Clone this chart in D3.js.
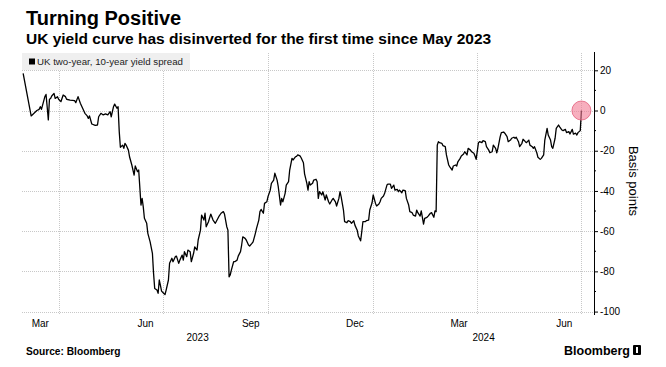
<!DOCTYPE html>
<html>
<head>
<meta charset="utf-8">
<script src="https://cdn.jsdelivr.net/npm/d3@7"></script>
<style>
body { margin: 0; background: #fff; }
text { font-family: "Liberation Sans", Arial, sans-serif; fill: #000; }
</style>
</head>
<body>
<script>
// UK 2y/10y spread, basis points
var dates = [
  "2023-03-01","2023-03-08","2023-03-13","2023-03-15","2023-03-16","2023-03-17","2023-03-20","2023-03-21","2023-03-22","2023-03-23",
  "2023-03-24","2023-03-25","2023-03-26","2023-03-28","2023-03-29","2023-03-31","2023-04-01","2023-04-03","2023-04-05","2023-04-07",
  "2023-04-08","2023-04-11","2023-04-15","2023-04-16","2023-04-18","2023-04-20","2023-04-22","2023-04-24","2023-04-26","2023-04-27",
  "2023-04-28","2023-04-30","2023-05-03","2023-05-05","2023-05-06","2023-05-08","2023-05-10","2023-05-12","2023-05-14","2023-05-16",
  "2023-05-17","2023-05-19","2023-05-20","2023-05-22","2023-05-23","2023-05-24","2023-05-25","2023-05-27","2023-05-28","2023-05-29",
  "2023-05-30","2023-06-01","2023-06-02","2023-06-04","2023-06-06","2023-06-07","2023-06-09","2023-06-10","2023-06-12","2023-06-13",
  "2023-06-14","2023-06-15","2023-06-17","2023-06-18","2023-06-20","2023-06-22","2023-06-23","2023-06-24","2023-06-26","2023-06-27",
  "2023-06-28","2023-06-29","2023-06-30","2023-07-02","2023-07-03","2023-07-04","2023-07-06","2023-07-07","2023-07-09","2023-07-10",
  "2023-07-12","2023-07-13","2023-07-15","2023-07-16","2023-07-18","2023-07-19","2023-07-20","2023-07-22","2023-07-23","2023-07-25",
  "2023-07-26","2023-07-28","2023-07-29","2023-07-31","2023-08-01","2023-08-03","2023-08-04","2023-08-06","2023-08-07","2023-08-08",
  "2023-08-10","2023-08-12","2023-08-14","2023-08-16","2023-08-19","2023-08-21","2023-08-23","2023-08-24","2023-08-26","2023-08-27",
  "2023-08-28","2023-08-29","2023-08-30","2023-09-01","2023-09-02","2023-09-04","2023-09-05","2023-09-07","2023-09-08","2023-09-09",
  "2023-09-11","2023-09-12","2023-09-14","2023-09-15","2023-09-17","2023-09-18","2023-09-20","2023-09-21","2023-09-23","2023-09-24",
  "2023-09-25","2023-09-27","2023-09-28","2023-09-30","2023-10-01","2023-10-03","2023-10-04","2023-10-06","2023-10-07","2023-10-09",
  "2023-10-10","2023-10-12","2023-10-13","2023-10-14","2023-10-16","2023-10-17","2023-10-19","2023-10-20","2023-10-22","2023-10-23",
  "2023-10-25","2023-10-26","2023-10-27","2023-10-29","2023-10-30","2023-11-01","2023-11-02","2023-11-04","2023-11-05","2023-11-06",
  "2023-11-07","2023-11-09","2023-11-10","2023-11-12","2023-11-13","2023-11-14","2023-11-15","2023-11-17","2023-11-18","2023-11-20",
  "2023-11-21","2023-11-23","2023-11-24","2023-11-26","2023-11-27","2023-11-29","2023-11-30","2023-12-02","2023-12-03","2023-12-04",
  "2023-12-06","2023-12-07","2023-12-09","2023-12-10","2023-12-12","2023-12-13","2023-12-15","2023-12-16","2023-12-18","2023-12-19",
  "2023-12-21","2023-12-22","2023-12-23","2023-12-25","2023-12-26","2023-12-28","2023-12-29","2023-12-31","2024-01-01","2024-01-03",
  "2024-01-04","2024-01-06","2024-01-07","2024-01-08","2024-01-10","2024-01-11","2024-01-13","2024-01-14","2024-01-16","2024-01-17",
  "2024-01-19","2024-01-20","2024-01-22","2024-01-23","2024-01-24","2024-01-26","2024-01-27","2024-01-29","2024-01-30","2024-02-01",
  "2024-02-02","2024-02-04","2024-02-05","2024-02-07","2024-02-08","2024-02-09","2024-02-11","2024-02-12","2024-02-14","2024-02-15",
  "2024-02-17","2024-02-18","2024-02-20","2024-02-21","2024-02-23","2024-02-24","2024-02-25","2024-02-26","2024-02-27","2024-02-28",
  "2024-03-01","2024-03-02","2024-03-04","2024-03-05","2024-03-07","2024-03-08","2024-03-10","2024-03-11","2024-03-13","2024-03-14",
  "2024-03-15","2024-03-17","2024-03-18","2024-03-20","2024-03-21","2024-03-23","2024-03-24","2024-03-26","2024-03-27","2024-03-29",
  "2024-03-30","2024-03-31","2024-04-02","2024-04-03","2024-04-05","2024-04-06","2024-04-08","2024-04-09","2024-04-11","2024-04-12",
  "2024-04-14","2024-04-15","2024-04-17","2024-04-18","2024-04-19","2024-04-21","2024-04-22","2024-04-24","2024-04-25","2024-04-27",
  "2024-04-28","2024-04-30","2024-05-01","2024-05-03","2024-05-04","2024-05-05","2024-05-07","2024-05-08","2024-05-10","2024-05-11",
  "2024-05-13","2024-05-14","2024-05-16","2024-05-17","2024-05-19","2024-05-20","2024-05-21","2024-05-23","2024-05-24","2024-05-26",
  "2024-05-27","2024-05-29","2024-05-30","2024-06-01","2024-06-02","2024-06-04","2024-06-05","2024-06-06","2024-06-08","2024-06-09",
  "2024-06-11","2024-06-12","2024-06-14","2024-06-15","2024-06-17","2024-06-18","2024-06-20","2024-06-21","2024-06-23","2024-06-24",
  "2024-06-26","2024-06-27","2024-06-28","2024-06-30","2024-07-01"
];
var spread = [
  18.5,-2.7,0,0.6,1.9,0.6,6.9,8,1.9,-4.7,
  5.6,6,7.2,8.5,6,6.9,5.6,4.4,7.7,6.9,
  5.6,5.2,4.9,3.9,6.9,3.6,1.1,-1.4,-2.7,-3.9,
  -2.7,-6.7,-7.4,-7.2,-3.1,-1.4,-2.2,-1.7,-2.2,-0.6,
  -3.1,1.9,3.2,1.1,1.9,-10.5,-18.3,-17.2,-18.8,-16.3,
  -17.2,-19.7,-23,-27.1,-32.1,-27.6,-30.4,-29.6,-47,-43.7,
  -47.9,-53.6,-56.1,-61.1,-65.3,-71,-81,-88.5,-89.3,-90.9,
  -84.3,-87,-89.8,-91,-91.5,-89.3,-84.3,-76,-73.5,-75.2,
  -72.7,-72.4,-76,-74.4,-71.9,-74.4,-70.2,-72.7,-69.4,-70.2,
  -75.2,-71,-67.8,-69.4,-64.4,-59.5,-52,-54.5,-51.1,-57.8,
  -55.3,-51.5,-54.5,-56.1,-52.8,-51.1,-50.3,-51.5,-57.8,-59.5,
  -82.7,-81.8,-79.4,-75.2,-75.2,-74.4,-72.4,-70.2,-66.9,-62.8,
  -63.6,-64.4,-66.9,-67.4,-66.1,-65.3,-61.1,-58.6,-54.5,-50.3,
  -49.2,-51.1,-46.2,-45.4,-42.9,-39.6,-36.2,-34.6,-31.2,-34.6,
  -37.9,-47,-43.7,-45.4,-41.2,-37.1,-35.4,-29.6,-23.8,-24.6,
  -23,-22.8,-22.1,-22.6,-23.5,-26,-31.5,-36.2,-39.6,-35.4,
  -37.1,-36.2,-34.6,-34.2,-35.4,-43.7,-40.4,-42,-40.4,-44.5,
  -42,-45.4,-46.5,-44.5,-43.7,-45.4,-47.5,-43.7,-40.4,-42.9,
  -49.5,-55.3,-55.8,-54.8,-55.3,-56.1,-54.8,-57,-59.5,-62.4,
  -64.8,-60.3,-55.3,-55.3,-54.8,-54.5,-49.5,-45.9,-42,-46.2,
  -47.5,-46.5,-45.4,-43.7,-42.5,-41.2,-37.1,-36.6,-36.6,-38.7,
  -37.1,-39.6,-39.2,-40.4,-39.6,-40.9,-39.6,-39.9,-43.7,-47,
  -50.3,-50.8,-52,-52.5,-49.5,-50.8,-52.5,-49.9,-56.5,-53.6,
  -53.1,-52.5,-51.1,-50.8,-53.1,-49.9,-50.3,-17.2,-15.5,-16,
  -16.3,-17.5,-18,-22.1,-27.1,-28,-29.6,-27.6,-27.1,-27.6,
  -25.5,-23.8,-22.6,-21.6,-20.5,-22.1,-18.8,-19.7,-20.5,-21.3,
  -22.6,-24.3,-16,-15.5,-16,-15,-15.5,-18,-19.7,-21,
  -20.5,-17.2,-18.8,-21,-18.8,-13,-11,-10.7,-11.3,-13,
  -15.5,-14.7,-13.8,-13.3,-13.8,-13.3,-15.5,-18,-16.3,-14.3,
  -15.5,-16,-14.7,-17.2,-18,-18.8,-18,-21,-23.3,-24.3,
  -23.8,-22.1,-14.7,-8.9,-12.2,-14.7,-18,-18.8,-13.8,-8.9,
  -7.2,-8.1,-9.7,-10,-9.4,-11,-10.5,-11.7,-9.4,-11.7,
  -11.3,-12.2,-11,-10,0
];

var monthLabels = ["Mar", "Jun", "Sep", "Dec", "Mar", "Jun"];
var monthLabelDates = ["2023-03-16", "2023-06-16", "2023-09-16", "2023-12-16", "2024-03-16", "2024-06-16"];
var gridDates = ["2023-04-01", "2023-07-01", "2023-10-01", "2024-01-01", "2024-04-01", "2024-07-01"];
var yearLabels = ["2023", "2024"];
var yTicks = [20, 0, -20, -40, -60, -80, -100];
var yMinorTicks = [10, -10, -30, -50, -70, -90];

var w = 666, h = 367;
var plotLeft = 22, plotRight = 594, plotTop = 53, plotBottom = 315;

var parse = d3.timeParse("%Y-%m-%d");

var data = [];
for (i = 0; i < dates.length; i++) {
    data.push({date: parse(dates[i]), value: spread[i]});
}

var x = d3.scaleTime()
    .domain([parse("2023-02-28"), parse("2024-07-12")])
    .range([plotLeft, plotRight]);
var y = d3.scaleLinear()
    .domain([-101.7, 29.1])
    .range([plotBottom, plotTop - 1]);

var svg = d3.select("body").append("svg")
    .attr("width", w)
    .attr("height", h);

// titles
svg.append("text")
    .attr("x", 26).attr("y", 25)
    .style("font-size", "20px").style("font-weight", "bold")
    .text("Turning Positive");
svg.append("text")
    .attr("x", 26).attr("y", 44)
    .style("font-size", "15.5px").style("font-weight", "bold")
    .text("UK yield curve has disinverted for the first time since May 2023");

// gridlines
svg.append("g").selectAll("line")
    .data(yTicks).enter().append("line")
    .attr("x1", plotLeft).attr("x2", plotRight)
    .attr("y1", function(d) { return Math.round(y(d)) + 0.5; })
    .attr("y2", function(d) { return Math.round(y(d)) + 0.5; })
    .attr("stroke", "#c8c8c8")
    .attr("stroke-dasharray", "1,1");

svg.append("g").selectAll("line")
    .data(gridDates).enter().append("line")
    .attr("x1", function(d) { return Math.round(x(parse(d))) + 0.5; })
    .attr("x2", function(d) { return Math.round(x(parse(d))) + 0.5; })
    .attr("y1", plotTop).attr("y2", plotBottom)
    .attr("stroke", "#c8c8c8")
    .attr("stroke-dasharray", "1,1");

// legend
svg.append("rect")
    .attr("x", plotLeft).attr("y", plotTop)
    .attr("width", 168).attr("height", 17)
    .attr("fill", "#efefef");
svg.append("rect")
    .attr("x", 29).attr("y", 58.5)
    .attr("width", 6).attr("height", 6)
    .attr("fill", "#000");
svg.append("text")
    .attr("x", 37).attr("y", 65)
    .style("font-size", "9.7px")
    .style("fill", "#222")
    .text("UK two-year, 10-year yield spread");

// the line
var line = d3.line()
    .x(function(d) { return x(d.date); })
    .y(function(d) { return y(d.value); });

svg.append("path")
    .datum(data)
    .attr("d", line)
    .attr("fill", "none")
    .attr("stroke", "#000")
    .attr("stroke-width", 1.3)
    .attr("stroke-linejoin", "round");

// highlight on the last point
var last = data[data.length - 1];
svg.append("circle")
    .attr("cx", x(last.date))
    .attr("cy", y(last.value))
    .attr("r", 9.5)
    .attr("fill", "#f27a93")
    .attr("fill-opacity", 0.6)
    .attr("stroke", "#e3607c")
    .attr("stroke-width", 0.8);

// right axis
var yAxis = d3.axisRight(y)
    .tickValues(yTicks)
    .tickSize(4)
    .tickPadding(2)
    .tickFormat(function(d) { return d; });
var gy = svg.append("g")
    .attr("transform", "translate(" + plotRight + ",0)")
    .call(yAxis);
gy.select(".domain").remove();
gy.selectAll("text")
    .style("font-size", "10px")
    .style("font-family", "'Liberation Sans', Arial, sans-serif");

svg.append("g").selectAll("line")
    .data(yMinorTicks).enter().append("line")
    .attr("x1", plotRight).attr("x2", plotRight + 2)
    .attr("y1", function(d) { return y(d); })
    .attr("y2", function(d) { return y(d); })
    .attr("stroke", "#000");

svg.append("line")
    .attr("x1", plotRight + 0.5).attr("x2", plotRight + 0.5)
    .attr("y1", plotTop - 1).attr("y2", plotBottom)
    .attr("stroke", "#000");

svg.append("text")
    .attr("transform", "translate(629,181) rotate(90)")
    .style("text-anchor", "middle")
    .style("font-size", "13px")
    .text("Basis points");

// month and year labels
svg.append("g").selectAll("text")
    .data(monthLabels).enter().append("text")
    .attr("x", function(d, i) { return x(parse(monthLabelDates[i])); })
    .attr("y", 327)
    .style("text-anchor", "middle")
    .style("font-size", "10px")
    .text(function(d) { return d; });

var xStart = x.domain()[0], xEnd = x.domain()[1];
svg.append("g").selectAll("text")
    .data(yearLabels).enter().append("text")
    .attr("x", function(d) {
        var a = d3.max([xStart, parse(d + "-01-01")]);
        var b = d3.min([xEnd, parse((+d + 1) + "-01-01")]);
        return (x(a) + x(b)) / 2;
    })
    .attr("y", 341)
    .style("text-anchor", "middle")
    .style("font-size", "10px")
    .text(function(d) { return d; });

// footer
svg.append("text")
    .attr("x", 26).attr("y", 355)
    .style("font-size", "10.2px").style("font-weight", "bold")
    .text("Source: Bloomberg");
svg.append("text")
    .attr("x", 630).attr("y", 355)
    .style("text-anchor", "end")
    .style("font-size", "12.5px").style("font-weight", "bold")
    .text("Bloomberg");
svg.append("rect")
    .attr("x", 633).attr("y", 345)
    .attr("width", 8).attr("height", 10)
    .attr("rx", 1)
    .attr("fill", "#000");
svg.append("rect")
    .attr("x", 636).attr("y", 347)
    .attr("width", 2).attr("height", 6)
    .attr("fill", "#fff");
</script>
</body>
</html>
